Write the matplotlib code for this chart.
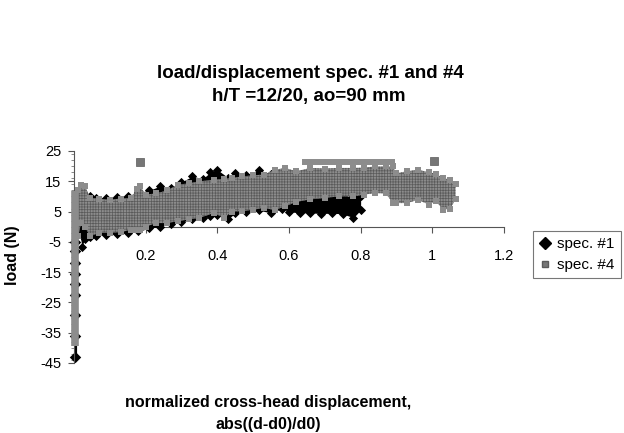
import matplotlib
matplotlib.use("Agg")
import matplotlib.pyplot as plt
from matplotlib.lines import Line2D
from matplotlib.ticker import MultipleLocator

plt.rcParams['font.family'] = ['Liberation Sans', 'DejaVu Sans']
plt.rcParams['axes.unicode_minus'] = False
plt.rcParams['hatch.linewidth'] = 0.5

# spec. #1 (black diamonds) - envelope of the point cloud
x1 = [0.010, 0.015, 0.022, 0.030, 0.045, 0.06, 0.09, 0.12, 0.15, 0.18, 0.21, 0.24, 0.27,
      0.30, 0.33, 0.36, 0.38, 0.40, 0.43, 0.45, 0.48, 0.515, 0.55, 0.58, 0.60, 0.63,
      0.66, 0.69, 0.72, 0.75, 0.78, 0.80]
lo1 = [-1.0, -1.0, -6.6, -4.0, -3.5, -3.0, -2.6, -2.4, -2.0, -1.5, -0.5, 0.0, 1.0,
       1.5, 2.5, 3.0, 3.5, 4.0, 2.5, 4.5, 5.0, 5.5, 4.5, 6.0, 5.0, 4.5,
       4.6, 4.3, 4.5, 4.2, 3.0, 5.5]
hi1 = [11.0, 12.0, 12.0, 10.0, 10.0, 9.5, 9.5, 9.8, 10.3, 11.3, 12.0, 13.4, 12.8,
       14.8, 16.6, 15.9, 17.9, 18.8, 16.2, 17.7, 17.0, 18.8, 17.3, 16.3, 9.5, 9.6,
       9.7, 9.8, 9.9, 10.0, 10.2, 10.2]
# spec. #1 points along the vertical start (x ~ 0)
col1_x = 0.003
col1_y = [-43.0, -36.0, -29.0, -22.5, -19.0, -15.5, -12.0, -8.0, -5.0]

# spec. #4 (grey squares) - envelope of the point cloud
x4 = [0.012, 0.020, 0.030, 0.045, 0.07, 0.10, 0.13, 0.16, 0.175, 0.185, 0.20, 0.23,
      0.26, 0.29, 0.32, 0.35, 0.39, 0.42, 0.44, 0.47, 0.50, 0.53, 0.56, 0.59, 0.62,
      0.66, 0.70, 0.74, 0.78, 0.81, 0.84, 0.87, 0.89, 0.90, 0.93, 0.96, 0.99, 1.01,
      1.03, 1.05, 1.065]
lo4 = [-3.0, 1.3, 0.0, -3.2, -2.0, -2.0, -1.8, -1.0, -1.0, -1.0, 0.0, 1.2,
       1.2, 1.8, 2.4, 2.9, 4.5, 2.9, 5.0, 5.1, 5.6, 6.2, 5.5, 6.7, 8.2,
       9.0, 9.5, 10.0, 10.0, 10.6, 11.1, 11.0, 7.8, 7.8, 7.8, 8.9, 7.3, 8.5,
       5.6, 6.0, 9.0]
hi4 = [12.0, 13.9, 13.5, 9.6, 9.2, 8.9, 9.3, 9.5, 12.5, 13.3, 10.6, 11.0,
       12.0, 13.9, 14.3, 15.0, 15.5, 15.8, 16.1, 16.6, 17.0, 17.2, 18.8, 19.4, 18.3,
       19.4, 19.2, 19.4, 19.4, 19.5, 19.9, 19.9, 19.9, 17.7, 18.3, 18.8, 18.0, 17.5,
       16.1, 15.5, 14.0]
col4_x = 0.003
col4_lo = -39.5
col4_hi = 11.7
# stray readings of spec. #4
row4_x = [0.635, 0.895]
row4_y = [21.3, 21.3]
odd4_x = [0.184, 1.005]
odd4_y = [21.2, 21.6]

fig = plt.figure(figsize=(6.24, 4.33), dpi=100)
ax = fig.add_axes([0.1186, 0.1617, 0.689, 0.4896])

grey = '#8c8c8c'
grey_dark = '#5a5a5a'

# spec #1 (drawn underneath)
ax.fill_between(x1, lo1, hi1, color='black', lw=0, zorder=2)
ax.scatter(x1, lo1, marker='D', s=22, color='black', lw=0, zorder=2)
ax.scatter(x1, hi1, marker='D', s=22, color='black', lw=0, zorder=2)
ax.vlines(col1_x, min(col1_y), 0, color='black', lw=3, zorder=2)
ax.scatter([col1_x] * len(col1_y), col1_y, marker='D', s=34, color='black', lw=0,
           zorder=2, clip_on=False)

# spec #4 on top
ax.fill_between(x4, lo4, hi4, facecolor=grey, edgecolor=grey_dark, hatch='++++++',
                lw=0, zorder=3)
ax.scatter(x4, lo4, marker='s', s=18, color=grey, lw=0, zorder=3)
ax.scatter(x4, hi4, marker='s', s=18, color=grey, lw=0, zorder=3)
ax.vlines(col4_x, col4_lo, col4_hi, color=grey, lw=5.5, zorder=3, clip_on=False)
ax.plot(row4_x, row4_y, color=grey, lw=4.3, solid_capstyle='butt', zorder=3)
ax.scatter(odd4_x, odd4_y, marker='s', s=26, color='#767676', edgecolors=grey_dark,
           lw=0.5, zorder=3)

ax.set_xlim(0, 1.2)
ax.set_ylim(-45, 25)
ax.spines['top'].set_visible(False)
ax.spines['right'].set_visible(False)
ax.spines['bottom'].set_position(('data', 0))
ax.spines['bottom'].set_color('#555555')
ax.spines['left'].set_color('#555555')
ax.spines['bottom'].set_zorder(1)

ax.set_yticks([25, 15, 5, -5, -15, -25, -35, -45])
ax.yaxis.set_minor_locator(MultipleLocator(2))
ax.set_xticks([0.2, 0.4, 0.6, 0.8, 1.0, 1.2])
ax.set_xticklabels(['0.2', '0.4', '0.6', '0.8', '1', '1.2'])
ax.tick_params(axis='y', which='major', direction='out', length=4, width=0.8,
               labelsize=10.5, pad=5, color='#555555')
ax.tick_params(axis='y', which='minor', direction='out', length=2, width=0.6,
               color='#777777')
ax.tick_params(axis='x', which='major', direction='out', length=4, width=0.8,
               labelsize=10.5, pad=12, color='#555555')

fig.text(310 / 624, 1 - 74 / 433, 'load/displacement spec. #1 and #4', ha='center',
         va='center', fontsize=13.5, fontweight='bold')
fig.text(309 / 624, 1 - 97 / 433, 'h/T =12/20, ao=90 mm', ha='center', va='center',
         fontsize=13.5, fontweight='bold')
fig.text(13 / 624, 1 - 255 / 433, 'load (N)', rotation=90, ha='center', va='center',
         fontsize=11.5, fontweight='bold')
fig.text(268 / 624, 1 - 403 / 433, 'normalized cross-head displacement,', ha='center',
         va='center', fontsize=11.5, fontweight='bold')
fig.text(268 / 624, 1 - 425 / 433, 'abs((d-d0)/d0)', ha='center', va='center',
         fontsize=11.5, fontweight='bold')

handles = [
    Line2D([], [], ls='none', marker='D', color='black', markersize=6),
    Line2D([], [], ls='none', marker='s', color='#767676', markeredgecolor=grey_dark,
           markersize=4.5),
]
leg = fig.legend(handles, ['spec. #1', 'spec. #4'], loc='upper left',
                 bbox_to_anchor=(533 / 624, 1 - 231 / 433), fontsize=11,
                 frameon=True, fancybox=False, handlelength=0.8, handletextpad=0.4,
                 borderpad=0.4, labelspacing=0.45, borderaxespad=0)
leg.get_frame().set_edgecolor('#555555')
leg.get_frame().set_linewidth(0.8)

fig.savefig('out.png', dpi=100)
